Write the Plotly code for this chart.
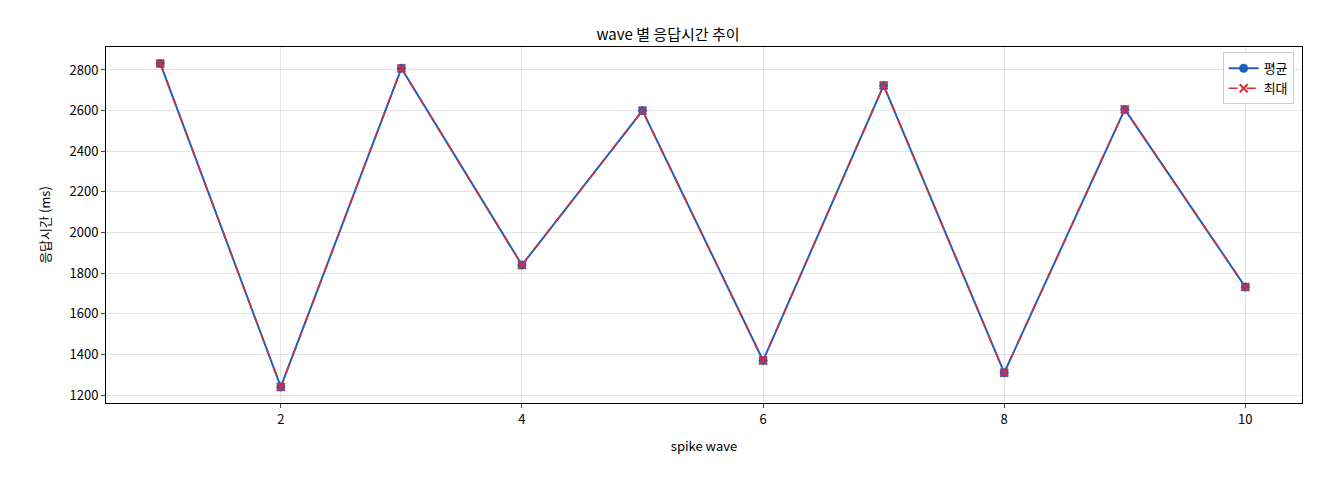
import plotly.graph_objects as go

waves = [1, 2, 3, 4, 5, 6, 7, 8, 9, 10]
avg_ms = [2832, 1240, 2808, 1840, 2600, 1370, 2724, 1310, 2606, 1732]
max_ms = [2832, 1240, 2808, 1840, 2600, 1370, 2724, 1310, 2606, 1732]

FONT = "Noto Sans CJK KR"

fig = go.Figure()
fig.add_trace(go.Scatter(x=waves, y=avg_ms, name="평균", mode="lines+markers",
                         line=dict(color="#1f5fbf", width=2),
                         marker=dict(symbol="circle", size=9, color="#1f5fbf")))
fig.add_trace(go.Scatter(x=waves, y=max_ms, name="최대", mode="lines+markers",
                         line=dict(color="#d62d3a", width=1.6, dash="dash"),
                         marker=dict(symbol="x-thin", size=8, color="#d62d3a",
                                     line=dict(color="#d62d3a", width=2))))

axis = dict(showline=True, linecolor="black", mirror=True, ticks="outside",
            ticklen=4, gridcolor="rgba(0,0,0,0.1)", zeroline=False,
            tickfont=dict(size=13, color="black"))
fig.update_xaxes(axis, range=[0.55, 10.47], tickvals=[2, 4, 6, 8, 10],
                 title=dict(text="spike wave", font=dict(size=13)))
fig.update_yaxes(axis, range=[1161, 2913], dtick=200,
                 title=dict(text="응답시간 (ms)", font=dict(size=13)))

fig.update_layout(
    width=1320, height=480,
    margin=dict(l=98, r=26, t=39, b=85),
    paper_bgcolor="white", plot_bgcolor="white",
    font=dict(family=FONT, color="black"),
    title=dict(text="wave 별 응답시간 추이", x=0.5, xanchor="center", y=0.955,
               font=dict(size=15)),
    legend=dict(x=0.993, y=0.985, xanchor="right", yanchor="top",
                bordercolor="#cccccc", borderwidth=1, font=dict(size=13)),
)
fig.write_html("out.html")
